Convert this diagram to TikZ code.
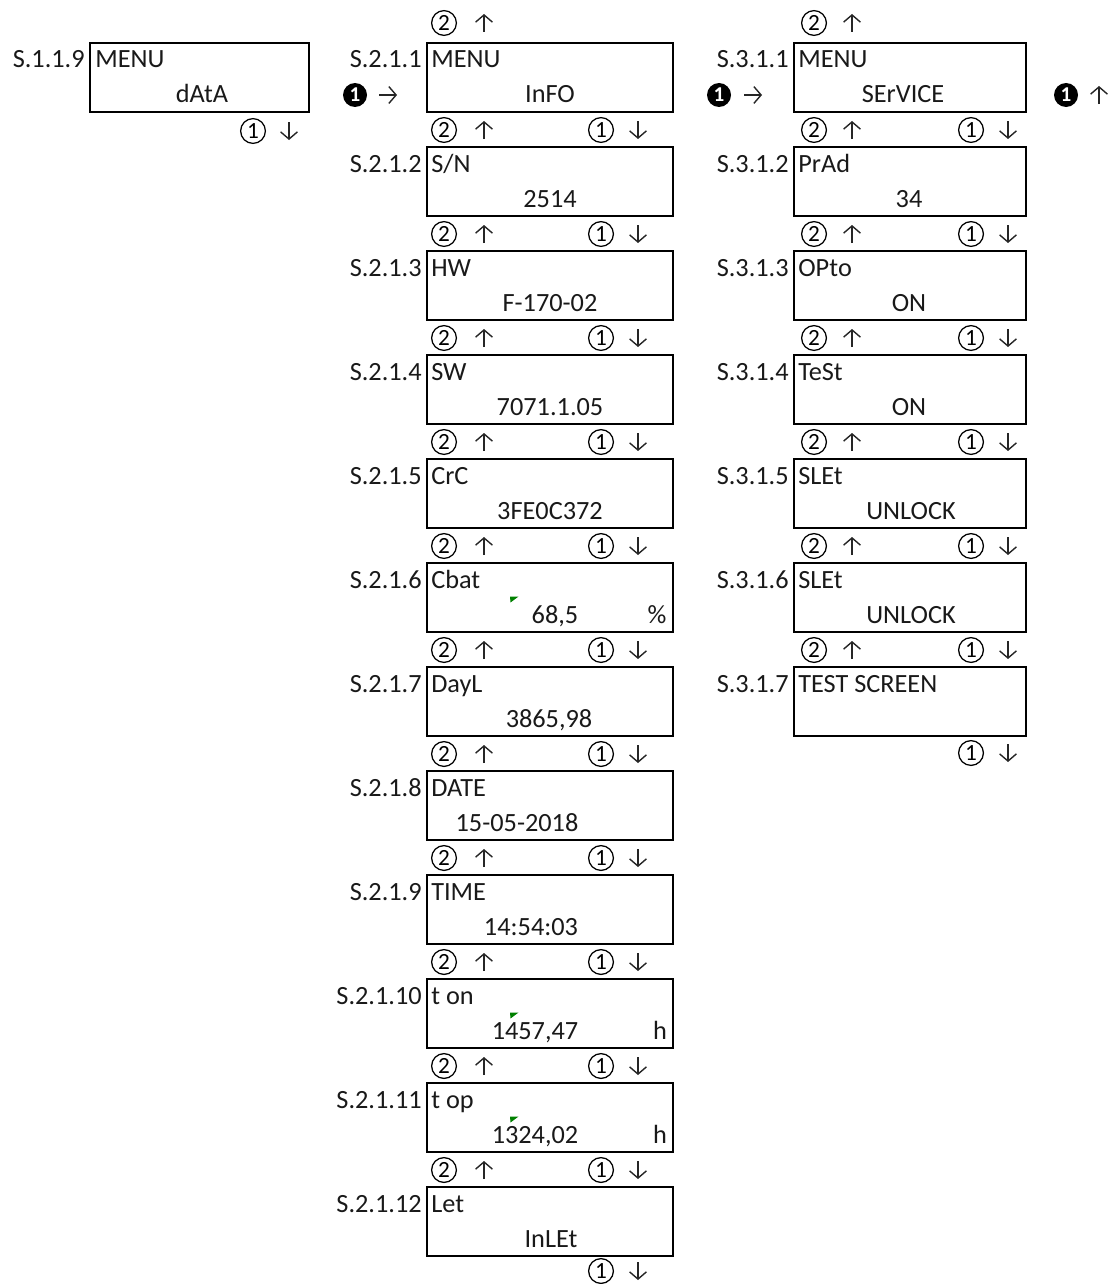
\documentclass[tikz,border=0pt]{standalone}
\usepackage{fontspec}
\setmainfont{Carlito}
\usetikzlibrary{arrows.meta}

\begin{document}
\begin{tikzpicture}[
  screen/.style={draw,line width=1.1pt,anchor=north west,inner sep=0pt,minimum height=1.725cm},
  txt/.style={font=\fontsize{18.7}{22}\selectfont,inner sep=0pt,text=black!90},
  idtxt/.style={txt,anchor=base east},
  title/.style={txt,anchor=base west},
  value/.style={txt,anchor=base},
  key/.style={circle,draw,line width=0.9pt,minimum size=0.62cm,inner sep=0pt,font=\fontsize{16.5}{16.5}\selectfont},
  dot/.style={circle,fill=black,minimum size=0.6cm,inner sep=0pt,text=white,font=\bfseries\fontsize{15}{15}\selectfont},
  keyarrow/.style={line width=1pt,draw=black!85,-{Straight Barb[length=1.8mm,width=4.2mm]}},
  marker/.style={fill=green!50!black}
]
\useasboundingbox (0,0) rectangle (27.725,-32.100);
% column 1
\node[screen,minimum width=5.475cm] (s1-1-9) at (2.225,-1.050) {};
\node[idtxt] (s1-1-9n) at (2.125,-1.700) {S.1.1.9};
\node[title] (s1-1-9t) at (2.375,-1.700) {MENU};
\node[value] (s1-1-9v) at (5.050,-2.575) {dAtA};
\node[key] (d1-1) at (6.325,-3.275) {1};
\draw[keyarrow] (7.225,-3.050) -- (7.225,-3.500);
% column 2
\node[dot] (b2) at (8.875,-2.375) {1};
\draw[keyarrow] (9.475,-2.375) -- (9.925,-2.375);
\node[screen,minimum width=6.150cm] (s2-1-1) at (10.650,-1.050) {};
\node[idtxt] (s2-1-1n) at (10.550,-1.700) {S.2.1.1};
\node[title] (s2-1-1t) at (10.775,-1.700) {MENU};
\node[value] (s2-1-1v) at (13.750,-2.575) {InFO};
\node[screen,minimum width=6.150cm] (s2-1-2) at (10.650,-3.650) {};
\node[idtxt] (s2-1-2n) at (10.550,-4.300) {S.2.1.2};
\node[title] (s2-1-2t) at (10.775,-4.300) {S/N};
\node[value] (s2-1-2v) at (13.750,-5.175) {2514};
\node[screen,minimum width=6.150cm] (s2-1-3) at (10.650,-6.250) {};
\node[idtxt] (s2-1-3n) at (10.550,-6.900) {S.2.1.3};
\node[title] (s2-1-3t) at (10.775,-6.900) {HW};
\node[value] (s2-1-3v) at (13.750,-7.775) {F-170-02};
\node[screen,minimum width=6.150cm] (s2-1-4) at (10.650,-8.850) {};
\node[idtxt] (s2-1-4n) at (10.550,-9.500) {S.2.1.4};
\node[title] (s2-1-4t) at (10.775,-9.500) {SW};
\node[value] (s2-1-4v) at (13.750,-10.375) {7071.1.05};
\node[screen,minimum width=6.150cm] (s2-1-5) at (10.650,-11.450) {};
\node[idtxt] (s2-1-5n) at (10.550,-12.100) {S.2.1.5};
\node[title] (s2-1-5t) at (10.775,-12.100) {CrC};
\node[value] (s2-1-5v) at (13.750,-12.975) {3FE0C372};
\node[screen,minimum width=6.150cm] (s2-1-6) at (10.650,-14.050) {};
\node[idtxt] (s2-1-6n) at (10.550,-14.700) {S.2.1.6};
\node[title] (s2-1-6t) at (10.775,-14.700) {Cbat};
\node[value] (s2-1-6v) at (13.875,-15.575) {68,5};
\node[value] (s2-1-6u) at (16.425,-15.575) {\%};
\fill[marker] (12.750,-14.913) -- (12.963,-14.913) -- (12.763,-15.063) -- cycle;
\node[screen,minimum width=6.150cm] (s2-1-7) at (10.650,-16.650) {};
\node[idtxt] (s2-1-7n) at (10.550,-17.300) {S.2.1.7};
\node[title] (s2-1-7t) at (10.775,-17.300) {DayL};
\node[value] (s2-1-7v) at (13.725,-18.175) {3865,98};
\node[screen,minimum width=6.150cm] (s2-1-8) at (10.650,-19.250) {};
\node[idtxt] (s2-1-8n) at (10.550,-19.900) {S.2.1.8};
\node[title] (s2-1-8t) at (10.775,-19.900) {DATE};
\node[value] (s2-1-8v) at (12.925,-20.775) {15-05-2018};
\node[screen,minimum width=6.150cm] (s2-1-9) at (10.650,-21.850) {};
\node[idtxt] (s2-1-9n) at (10.550,-22.500) {S.2.1.9};
\node[title] (s2-1-9t) at (10.775,-22.500) {TIME};
\node[value] (s2-1-9v) at (13.275,-23.375) {14:54:03};
\node[screen,minimum width=6.150cm] (s2-1-10) at (10.650,-24.450) {};
\node[idtxt] (s2-1-10n) at (10.550,-25.100) {S.2.1.10};
\node[title] (s2-1-10t) at (10.775,-25.100) {t on};
\node[value] (s2-1-10v) at (13.375,-25.975) {1457,47};
\node[value] (s2-1-10u) at (16.500,-25.975) {h};
\fill[marker] (12.750,-25.313) -- (12.963,-25.313) -- (12.763,-25.463) -- cycle;
\node[screen,minimum width=6.150cm] (s2-1-11) at (10.650,-27.050) {};
\node[idtxt] (s2-1-11n) at (10.550,-27.700) {S.2.1.11};
\node[title] (s2-1-11t) at (10.775,-27.700) {t op};
\node[value] (s2-1-11v) at (13.375,-28.575) {1324,02};
\node[value] (s2-1-11u) at (16.500,-28.575) {h};
\fill[marker] (12.750,-27.913) -- (12.963,-27.913) -- (12.763,-28.063) -- cycle;
\node[screen,minimum width=6.150cm] (s2-1-12) at (10.650,-29.650) {};
\node[idtxt] (s2-1-12n) at (10.550,-30.300) {S.2.1.12};
\node[title] (s2-1-12t) at (10.775,-30.300) {Let};
\node[value] (s2-1-12v) at (13.775,-31.175) {InLEt};
% column 2 keys
\node[key] (u2-0) at (11.100,-0.575) {2};
\draw[keyarrow] (12.100,-0.800) -- (12.100,-0.350);
\node[key] (u2-1) at (11.100,-3.250) {2};
\draw[keyarrow] (12.100,-3.475) -- (12.100,-3.025);
\node[key] (d2-1) at (15.025,-3.250) {1};
\draw[keyarrow] (15.950,-3.025) -- (15.950,-3.475);
\node[key] (u2-2) at (11.100,-5.850) {2};
\draw[keyarrow] (12.100,-6.075) -- (12.100,-5.625);
\node[key] (d2-2) at (15.025,-5.850) {1};
\draw[keyarrow] (15.950,-5.625) -- (15.950,-6.075);
\node[key] (u2-3) at (11.100,-8.450) {2};
\draw[keyarrow] (12.100,-8.675) -- (12.100,-8.225);
\node[key] (d2-3) at (15.025,-8.450) {1};
\draw[keyarrow] (15.950,-8.225) -- (15.950,-8.675);
\node[key] (u2-4) at (11.100,-11.050) {2};
\draw[keyarrow] (12.100,-11.275) -- (12.100,-10.825);
\node[key] (d2-4) at (15.025,-11.050) {1};
\draw[keyarrow] (15.950,-10.825) -- (15.950,-11.275);
\node[key] (u2-5) at (11.100,-13.650) {2};
\draw[keyarrow] (12.100,-13.875) -- (12.100,-13.425);
\node[key] (d2-5) at (15.025,-13.650) {1};
\draw[keyarrow] (15.950,-13.425) -- (15.950,-13.875);
\node[key] (u2-6) at (11.100,-16.250) {2};
\draw[keyarrow] (12.100,-16.475) -- (12.100,-16.025);
\node[key] (d2-6) at (15.025,-16.250) {1};
\draw[keyarrow] (15.950,-16.025) -- (15.950,-16.475);
\node[key] (u2-7) at (11.100,-18.850) {2};
\draw[keyarrow] (12.100,-19.075) -- (12.100,-18.625);
\node[key] (d2-7) at (15.025,-18.850) {1};
\draw[keyarrow] (15.950,-18.625) -- (15.950,-19.075);
\node[key] (u2-8) at (11.100,-21.450) {2};
\draw[keyarrow] (12.100,-21.675) -- (12.100,-21.225);
\node[key] (d2-8) at (15.025,-21.450) {1};
\draw[keyarrow] (15.950,-21.225) -- (15.950,-21.675);
\node[key] (u2-9) at (11.100,-24.050) {2};
\draw[keyarrow] (12.100,-24.275) -- (12.100,-23.825);
\node[key] (d2-9) at (15.025,-24.050) {1};
\draw[keyarrow] (15.950,-23.825) -- (15.950,-24.275);
\node[key] (u2-10) at (11.100,-26.650) {2};
\draw[keyarrow] (12.100,-26.875) -- (12.100,-26.425);
\node[key] (d2-10) at (15.025,-26.650) {1};
\draw[keyarrow] (15.950,-26.425) -- (15.950,-26.875);
\node[key] (u2-11) at (11.100,-29.250) {2};
\draw[keyarrow] (12.100,-29.475) -- (12.100,-29.025);
\node[key] (d2-11) at (15.025,-29.250) {1};
\draw[keyarrow] (15.950,-29.025) -- (15.950,-29.475);
\node[key] (d2-12) at (15.025,-31.775) {1};
\draw[keyarrow] (15.950,-31.550) -- (15.950,-32.000);
% column 3
\node[dot] (b3) at (17.975,-2.375) {1};
\draw[keyarrow] (18.600,-2.375) -- (19.050,-2.375);
\node[dot] (b3r) at (26.650,-2.375) {1};
\draw[keyarrow] (27.475,-2.600) -- (27.475,-2.150);
\node[screen,minimum width=5.800cm] (s3-1-1) at (19.825,-1.050) {};
\node[idtxt] (s3-1-1n) at (19.725,-1.700) {S.3.1.1};
\node[title] (s3-1-1t) at (19.950,-1.700) {MENU};
\node[value] (s3-1-1v) at (22.575,-2.575) {SErVICE};
\node[screen,minimum width=5.800cm] (s3-1-2) at (19.825,-3.650) {};
\node[idtxt] (s3-1-2n) at (19.725,-4.300) {S.3.1.2};
\node[title] (s3-1-2t) at (19.950,-4.300) {PrAd};
\node[value] (s3-1-2v) at (22.725,-5.175) {34};
\node[screen,minimum width=5.800cm] (s3-1-3) at (19.825,-6.250) {};
\node[idtxt] (s3-1-3n) at (19.725,-6.900) {S.3.1.3};
\node[title] (s3-1-3t) at (19.950,-6.900) {OPto};
\node[value] (s3-1-3v) at (22.725,-7.775) {ON};
\node[screen,minimum width=5.800cm] (s3-1-4) at (19.825,-8.850) {};
\node[idtxt] (s3-1-4n) at (19.725,-9.500) {S.3.1.4};
\node[title] (s3-1-4t) at (19.950,-9.500) {TeSt};
\node[value] (s3-1-4v) at (22.725,-10.375) {ON};
\node[screen,minimum width=5.800cm] (s3-1-5) at (19.825,-11.450) {};
\node[idtxt] (s3-1-5n) at (19.725,-12.100) {S.3.1.5};
\node[title] (s3-1-5t) at (19.950,-12.100) {SLEt};
\node[value] (s3-1-5v) at (22.775,-12.975) {UNLOCK};
\node[screen,minimum width=5.800cm] (s3-1-6) at (19.825,-14.050) {};
\node[idtxt] (s3-1-6n) at (19.725,-14.700) {S.3.1.6};
\node[title] (s3-1-6t) at (19.950,-14.700) {SLEt};
\node[value] (s3-1-6v) at (22.775,-15.575) {UNLOCK};
\node[screen,minimum width=5.800cm] (s3-1-7) at (19.825,-16.650) {};
\node[idtxt] (s3-1-7n) at (19.725,-17.300) {S.3.1.7};
\node[title] (s3-1-7t) at (19.950,-17.300) {TEST SCREEN};
% column 3 keys
\node[key] (u3-0) at (20.350,-0.575) {2};
\draw[keyarrow] (21.300,-0.800) -- (21.300,-0.350);
\node[key] (u3-1) at (20.350,-3.250) {2};
\draw[keyarrow] (21.300,-3.475) -- (21.300,-3.025);
\node[key] (d3-1) at (24.275,-3.250) {1};
\draw[keyarrow] (25.200,-3.025) -- (25.200,-3.475);
\node[key] (u3-2) at (20.350,-5.850) {2};
\draw[keyarrow] (21.300,-6.075) -- (21.300,-5.625);
\node[key] (d3-2) at (24.275,-5.850) {1};
\draw[keyarrow] (25.200,-5.625) -- (25.200,-6.075);
\node[key] (u3-3) at (20.350,-8.450) {2};
\draw[keyarrow] (21.300,-8.675) -- (21.300,-8.225);
\node[key] (d3-3) at (24.275,-8.450) {1};
\draw[keyarrow] (25.200,-8.225) -- (25.200,-8.675);
\node[key] (u3-4) at (20.350,-11.050) {2};
\draw[keyarrow] (21.300,-11.275) -- (21.300,-10.825);
\node[key] (d3-4) at (24.275,-11.050) {1};
\draw[keyarrow] (25.200,-10.825) -- (25.200,-11.275);
\node[key] (u3-5) at (20.350,-13.650) {2};
\draw[keyarrow] (21.300,-13.875) -- (21.300,-13.425);
\node[key] (d3-5) at (24.275,-13.650) {1};
\draw[keyarrow] (25.200,-13.425) -- (25.200,-13.875);
\node[key] (u3-6) at (20.350,-16.250) {2};
\draw[keyarrow] (21.300,-16.475) -- (21.300,-16.025);
\node[key] (d3-6) at (24.275,-16.250) {1};
\draw[keyarrow] (25.200,-16.025) -- (25.200,-16.475);
\node[key] (d3-7) at (24.275,-18.825) {1};
\draw[keyarrow] (25.200,-18.600) -- (25.200,-19.050);
\end{tikzpicture}
\end{document}
